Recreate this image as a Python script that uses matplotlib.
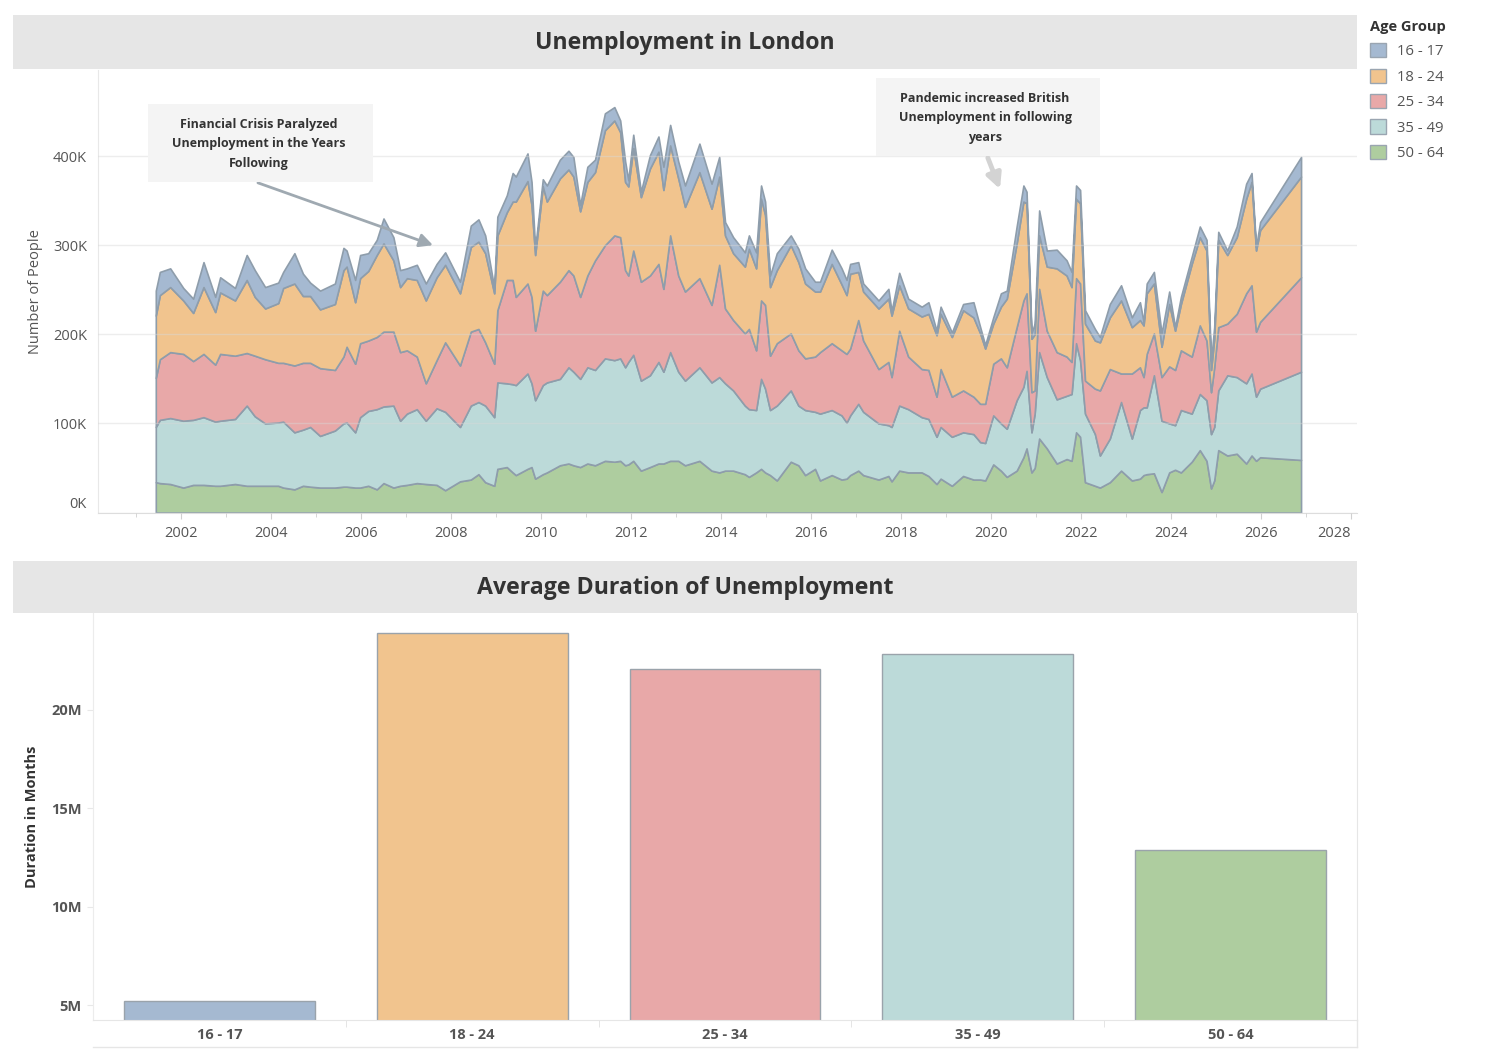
import numpy as np
import matplotlib
matplotlib.use("Agg")
import matplotlib.pyplot as plt
from matplotlib.patches import Patch, Rectangle
from matplotlib.lines import Line2D
from matplotlib.ticker import FuncFormatter, MultipleLocator

plt.rcParams['font.family'] = ['Open Sans', 'DejaVu Sans']

# ---- data (counts in thousands) ----
age_groups = ['16 - 17', '18 - 24', '25 - 34', '35 - 49', '50 - 64']

years = [2001.44, 2001.53, 2001.76, 2002.05, 2002.27, 2002.50, 2002.76, 2002.87, 2003.20, 2003.46,
         2003.64, 2003.87, 2004.16, 2004.27, 2004.52, 2004.71, 2004.87, 2005.09,
         2005.42, 2005.61, 2005.68, 2005.87, 2005.98, 2006.16, 2006.35, 2006.50, 2006.72, 2006.87,
         2007.02, 2007.24, 2007.44, 2007.68, 2007.87, 2008.20, 2008.44, 2008.61,
         2008.76, 2008.96, 2009.03, 2009.24, 2009.37, 2009.44, 2009.70, 2009.79, 2009.87, 2010.04,
         2010.13, 2010.42, 2010.61, 2010.72, 2010.87, 2011.03, 2011.20, 2011.42, 2011.63, 2011.76,
         2011.87, 2011.94, 2012.05, 2012.22, 2012.42,
         2012.61, 2012.72, 2012.87, 2013.05, 2013.20, 2013.52, 2013.79, 2013.96, 2014.09, 2014.27,
         2014.53, 2014.62, 2014.78, 2014.89, 2014.98, 2015.09, 2015.24, 2015.55, 2015.72, 2015.87, 2016.09,
         2016.20, 2016.46, 2016.68, 2016.79, 2016.87, 2017.05, 2017.16, 2017.50, 2017.72, 2017.79,
         2017.96, 2018.16, 2018.46, 2018.61, 2018.79, 2018.88, 2019.13, 2019.38, 2019.61, 2019.76,
         2019.87, 2020.05, 2020.22, 2020.35, 2020.57, 2020.72, 2020.79, 2020.90, 2020.97, 2021.07,
         2021.24, 2021.46, 2021.68, 2021.79, 2021.89, 2021.98, 2022.09, 2022.31, 2022.42, 2022.64,
         2022.89, 2023.13, 2023.31,
         2023.39, 2023.46, 2023.62, 2023.79, 2023.96, 2024.09, 2024.22, 2024.46, 2024.64, 2024.79,
         2024.89, 2024.96, 2025.05, 2025.25, 2025.46, 2025.67, 2025.79, 2025.89, 2025.98, 2026.89]

age_50_64 = [34, 33, 32, 28, 31, 31, 30, 30, 32, 30, 30, 30, 30, 28, 26, 30, 29, 28,
             28, 29, 29, 28, 28, 30, 26, 33, 28, 30, 31, 33, 32, 31, 25, 35, 37, 43,
             34, 30, 49, 51, 45, 42, 49, 51, 38, 43, 45, 53, 55, 53, 51, 55, 53, 58, 57, 58, 53, 54, 58, 47, 51,
             55, 55, 58, 58, 53, 58, 47, 45, 47, 47, 43, 40, 45, 49, 45, 42, 36, 57, 53, 42, 49,
             36, 42, 37, 38, 42, 47, 42, 37, 41, 35, 47, 45, 45, 41, 32, 38, 30, 41, 37, 37,
             36, 54, 47, 40, 47, 62, 72, 45, 50, 83, 72, 55, 60, 58, 90, 85, 34, 30, 28, 34, 47, 36, 38,
             42, 43, 44, 23, 45, 48, 45, 57, 70, 58, 27, 36, 70, 64, 66, 55, 64, 58, 62, 59]

age_35_49 = [62, 71, 74, 75, 73, 76, 72, 73, 73, 90, 78, 70, 71, 74, 64, 63, 67, 58,
             64, 71, 72, 62, 79, 84, 90, 86, 92, 73, 80, 83, 71, 86, 88, 61, 83, 81,
             86, 77, 97, 94, 99, 101, 107, 94, 88, 100, 101, 97, 108, 105, 99, 108, 107, 115, 114, 115, 110, 115, 119, 101, 103,
             114, 103, 122, 100, 95, 105, 99, 107, 98, 90, 77, 76, 70, 101, 94, 73, 84, 80, 67, 73, 64,
             75, 73, 72, 63, 67, 75, 71, 63, 57, 61, 73, 71, 62, 64, 53, 58, 55, 49, 51, 42,
             42, 55, 53, 54, 79, 79, 87, 45, 61, 97, 80, 72, 71, 75, 100, 86, 77, 58, 36, 49, 77, 47, 77,
             76, 75, 110, 80, 55, 50, 70, 54, 63, 68, 61, 60, 67, 90, 86, 90, 92, 72, 77, 99]

age_25_34 = [55, 68, 74, 75, 66, 71, 64, 75, 71, 59, 68, 72, 67, 66, 75, 75, 72, 76,
             68, 75, 85, 77, 83, 79, 81, 84, 83, 77, 71, 59, 42, 54, 78, 69, 83, 82,
             71, 60, 81, 116, 117, 99, 101, 97, 78, 106, 98, 109, 109, 108, 92, 103, 123, 127, 140, 136, 109, 97, 117, 111, 112,
             110, 93, 131, 108, 100, 100, 87, 126, 84, 79, 81, 90, 67, 88, 94, 61, 70, 64, 62, 58, 62,
             69, 75, 73, 77, 75, 94, 80, 61, 71, 56, 84, 59, 54, 55, 45, 65, 45, 47, 42, 43,
             44, 58, 73, 69, 82, 97, 87, 45, 26, 71, 52, 53, 44, 36, 73, 86, 37, 51, 73, 78, 32, 73, 48,
             34, 60, 47, 49, 64, 62, 67, 64, 77, 67, 47, 67, 71, 58, 71, 101, 99, 73, 75, 106]

age_18_24 = [70, 72, 73, 60, 54, 75, 59, 69, 62, 82, 66, 57, 67, 84, 92, 75, 75, 66,
             74, 97, 90, 69, 73, 78, 92, 99, 80, 73, 81, 86, 93, 93, 87, 81, 95, 98,
             100, 79, 84, 76, 88, 107, 115, 103, 85, 117, 105, 116, 113, 111, 96, 105, 99, 129, 129, 118, 99, 100, 115, 95, 120,
             126, 111, 101, 109, 95, 119, 108, 99, 82, 75, 75, 90, 92, 114, 101, 77, 82, 99, 99, 84, 73,
             68, 89, 74, 66, 84, 54, 55, 68, 71, 69, 51, 54, 59, 63, 69, 62, 67, 90, 89, 79,
             62, 45, 58, 77, 94, 111, 101, 60, 63, 60, 72, 94, 91, 84, 89, 90, 64, 54, 54, 58, 82, 52, 53,
             58, 68, 56, 34, 70, 44, 52, 104, 99, 101, 25, 32, 98, 77, 86, 106, 116, 91, 103, 113]

age_16_17 = [28, 26, 21, 14, 16, 28, 17, 17, 14, 28, 30, 24, 23, 18, 34, 25, 15, 21,
             23, 25, 18, 25, 26, 20, 17, 28, 26, 19, 11, 17, 19, 15, 14, 13, 24, 25,
             20, 6, 21, 19, 32, 28, 31, 26, 7, 8, 18, 21, 21, 22, 7, 17, 14, 19, 15, 13, 23, 7, 15, 6, 15,
             17, 26, 23, 19, 24, 32, 28, 22, 15, 18, 16, 15, 18, 15, 15, 13, 19, 11, 15, 17, 11,
             11, 16, 18, 17, 11, 11, 9, 9, 11, 5, 14, 11, 11, 13, 5, 8, 5, 7, 17, 7,
             4, 7, 15, 9, 19, 18, 13, 6, 12, 28, 18, 21, 17, 17, 15, 15, 15, 13, 6, 15, 17, 11, 20,
             4, 11, 13, 15, 14, 4, 8, 8, 12, 12, 10, 13, 9, 5, 12, 17, 10, 4, 9, 22]

# average duration per age group (millions)
duration_m = [5.2, 23.9, 22.1, 22.85, 12.88]

colors = ['#a5b9d1', '#f1c48e', '#e8a8a8', '#bcdad9', '#aecd9f']
edge = '#8e9dab'

W, H = 1492, 1057


def box(x0, y0, x1, y1):
    # pixel box -> figure fraction rect
    return [x0 / W, 1 - y1 / H, (x1 - x0) / W, (y1 - y0) / H]


fig = plt.figure(figsize=(W / 100, H / 100), dpi=100)

# ---- title bands ----
for (y0, y1, title) in [(15, 69, 'Unemployment in London'), (561, 613, 'Average Duration of Unemployment')]:
    fig.patches.append(Rectangle(box(13, y0, 1357, y1)[:2], 1344 / W, (y1 - y0) / H,
                                 transform=fig.transFigure, fc='#e6e6e6', ec='none', zorder=0))
    fig.text(685 / W, 1 - (y0 + y1 + 2) / 2 / H, title, ha='center', va='center',
             fontsize=16.7, fontweight='bold', color='#333333')

# ---- top: stacked area ----
ax = fig.add_axes(box(98, 70, 1357, 512.5))
stack = [np.array(s) * 1000 for s in (age_50_64, age_35_49, age_25_34, age_18_24, age_16_17)]
ax.stackplot(years, *stack, colors=colors[::-1], edgecolor=edge, linewidth=1.2)

ax.set_xlim(2002 - 83 / 45, 2002 + 1176 / 45)
ax.set_ylim(0, 442 / 0.89 * 1000)
ax.set_xticks(np.arange(2002, 2029, 2))
ax.xaxis.set_minor_locator(MultipleLocator(1))
ax.set_yticks(np.arange(0, 400001, 100000))
ax.yaxis.set_major_formatter(FuncFormatter(lambda v, p: f'{int(v / 1000)}K'))
ax.tick_params(axis='x', which='both', colors='#d0d0d0', labelcolor='#555555', labelsize=10.5, pad=6)
ax.tick_params(axis='x', which='major', length=4)
ax.tick_params(axis='x', which='minor', length=3)
ax.tick_params(axis='y', length=0, labelcolor='#555555', labelsize=10.5, pad=8)
ax.get_yticklabels()[0].set_va('bottom')
ax.get_xticklabels()[-1].set_ha('right')
ax.grid(axis='y', color='#d8d8d8', alpha=0.45, lw=1)
ax.set_axisbelow(False)
for s in ['top', 'right']:
    ax.spines[s].set_visible(False)
ax.spines['left'].set_color('#e8e8e8')
ax.spines['bottom'].set_color('#dddddd')
ax.set_ylabel('Number of People', fontsize=10.5, color='#555555', labelpad=7)

# annotations
fig.patches.append(Rectangle(box(148, 104, 373, 182)[:2], 225 / W, 78 / H,
                             transform=fig.transFigure, fc='#f4f4f4', ec='none', zorder=1))
fig.text(259 / W, 1 - 144 / H, 'Financial Crisis Paralyzed\nUnemployment in the Years\nFollowing',
         ha='center', va='center', fontsize=9, fontweight='bold', color='#333333', linespacing=1.62)
fig.patches.append(Rectangle(box(876, 78, 1100, 156)[:2], 224 / W, 78 / H,
                             transform=fig.transFigure, fc='#f4f4f4', ec='none', zorder=1))
fig.text(985 / W, 1 - 118 / H, 'Pandemic increased British\nUnemployment in following\nyears',
         ha='center', va='center', fontsize=9, fontweight='bold', color='#333333', linespacing=1.62)
ax.annotate('', xy=(2007.6, 300000), xytext=(2003.71, 370000),
            arrowprops=dict(arrowstyle='-|>', color='#9fa9b1', lw=2, mutation_scale=20, shrinkA=0, shrinkB=0))
ax.annotate('', xy=(2020.2, 363000), xytext=(2019.93, 398000),
            arrowprops=dict(arrowstyle='-|>', color='#d3d3d3', lw=3.5, mutation_scale=22, shrinkA=0, shrinkB=0))

# legend
handles = [Patch(fc=c, ec='#9aa5b1', lw=1) for c in colors]
leg = fig.legend(handles, age_groups, loc='upper left', bbox_to_anchor=(1367 / W, 1 - 17 / H),
                 title='Age Group', frameon=False, handlelength=1.1, handleheight=1.1,
                 labelspacing=0.62, handletextpad=0.75, borderaxespad=0, borderpad=0.2,
                 alignment='left', prop={'size': 10.7})
leg.get_title().set_fontweight('bold')
leg.get_title().set_fontsize(10.5)
leg.get_title().set_color('#333333')
for t in leg.get_texts():
    t.set_color('#555555')

# ---- bottom: bars ----
ax2 = fig.add_axes(box(93, 613, 1357, 1020))
ax2.bar(range(len(age_groups)), np.array(duration_m) * 1e6, width=0.755, color=colors,
        edgecolor='#9aa3ab', linewidth=1)
ax2.set_xlim(-0.5, len(age_groups) - 0.5)
ax2.set_ylim(4.24e6, 24.93e6)
ax2.set_yticks([5e6, 10e6, 15e6, 20e6])
ax2.yaxis.set_major_formatter(FuncFormatter(lambda v, p: f'{int(v / 1e6)}M'))
ax2.set_xticks(range(len(age_groups)))
ax2.set_xticklabels(age_groups)
ax2.set_xticks(np.arange(0.5, len(age_groups) - 1, 1), minor=True)
ax2.tick_params(axis='x', which='major', length=0, pad=6)
ax2.tick_params(axis='x', which='minor', length=5, color='#e0e0e0')
ax2.tick_params(axis='y', length=4, color='#e8e8e8', pad=4)
for lab in ax2.get_xticklabels() + ax2.get_yticklabels():
    lab.set_fontweight('bold')
    lab.set_fontsize(10.5)
    lab.set_color('#555555')
ax2.spines['top'].set_visible(False)
ax2.spines['left'].set_color('#ececec')
ax2.spines['bottom'].set_color('#e6e6e6')
ax2.spines['right'].set_color('#e6e6e6')
ax2.set_ylabel('Duration in Months', fontsize=10.5, fontweight='bold', color='#333333', labelpad=9)
fig.add_artist(Line2D([93 / W, 1357 / W], [1 - 1047 / H, 1 - 1047 / H], color='#e6e6e6', lw=1))
fig.add_artist(Line2D([1357 / W, 1357 / W], [1 - 1047 / H, 1 - 1020 / H], color='#e6e6e6', lw=1))

fig.savefig('out.png', dpi=100)
